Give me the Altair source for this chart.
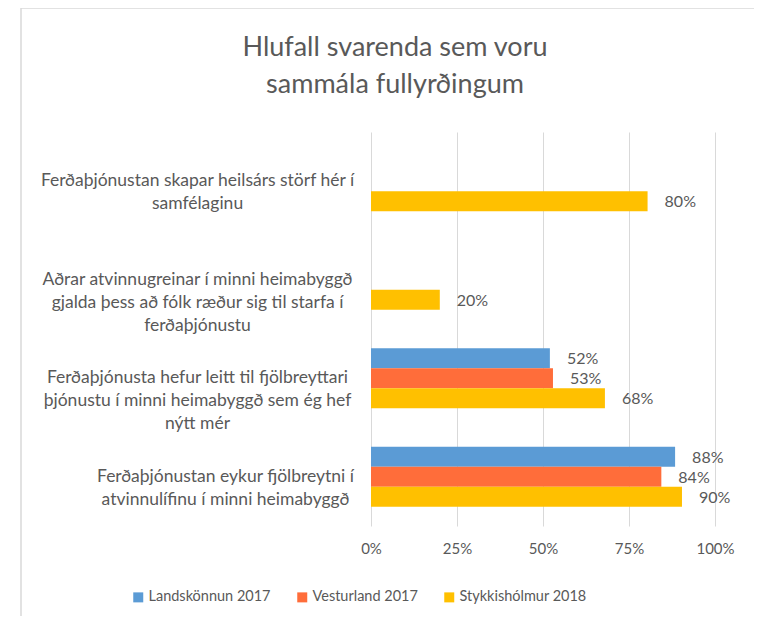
import altair as alt
import pandas as pd

categories = [
    "Ferðaþjónustan skapar heilsárs störf hér í samfélaginu",
    "Aðrar atvinnugreinar í minni heimabyggð gjalda þess að fólk ræður sig til starfa í ferðaþjónustu",
    "Ferðaþjónusta hefur leitt til fjölbreyttari þjónustu í minni heimabyggð sem ég hef nýtt mér",
    "Ferðaþjónustan eykur fjölbreytni í atvinnulífinu í minni heimabyggð",
]
category_lines = [
    ["Ferðaþjónustan skapar heilsárs störf hér í", "samfélaginu"],
    ["Aðrar atvinnugreinar í minni heimabyggð", "gjalda þess að fólk ræður sig til starfa í", "ferðaþjónustu"],
    ["Ferðaþjónusta hefur leitt til fjölbreyttari", "þjónustu í minni heimabyggð sem ég hef", "nýtt mér"],
    ["Ferðaþjónustan eykur fjölbreytni í", "atvinnulífinu í minni heimabyggð"],
]
series = ["Landskönnun 2017", "Vesturland 2017", "Stykkishólmur 2018"]
colors = ["#5B9BD5", "#FF6D3A", "#FFC000"]
landskonnun = [None, None, 0.52, 0.884]
vesturland = [None, None, 0.529, 0.844]
stykkisholmur = [0.804, 0.20, 0.68, 0.904]
x_ticks = [0, 0.25, 0.5, 0.75, 1.0]

rows = []
for s, vals in zip(series, [landskonnun, vesturland, stykkisholmur]):
    for c, v in zip(categories, vals):
        if v is not None:
            rows.append({"category": c, "series": s, "value": v})
df = pd.DataFrame(rows)

label_map = "{" + ", ".join(
    "'" + c + "': [" + ", ".join("'" + l + "'" for l in lines) + "]"
    for c, lines in zip(categories, category_lines)
) + "}"

FONT = "Lato"
GRAY = "#595959"

y_enc = alt.Y(
    "category:N",
    sort=categories,
    title=None,
    scale=alt.Scale(paddingInner=0.39, paddingOuter=0.195),
    axis=alt.Axis(
        labelExpr=label_map + "[datum.label]",
        labelAlign="center",
        labelBaseline="middle",
        labelLineHeight=23,
        labelFontSize=17.5,
        labelFont=FONT,
        labelColor=GRAY,
        labelLimit=400,
        labelPadding={"condition": {"test": "indexof(datum.label, 'eykur') >= 0", "value": 146}, "value": 174},
        ticks=False,
        domain=False,
        grid=False,
    ),
)
yoff = alt.YOffset("series:N", sort=series, scale=alt.Scale(domain=series, paddingInner=0, paddingOuter=0))
x_enc = alt.X(
    "value:Q",
    title=None,
    scale=alt.Scale(domain=[0, 1], nice=False),
    axis=alt.Axis(
        values=x_ticks,
        format=".0%",
        grid=True,
        gridColor="#D9D9D9",
        domain=False,
        ticks=False,
        labelFlush=False,
        labelFontSize=15,
        labelFont=FONT,
        labelColor=GRAY,
        labelPadding=15,
    ),
)

bars = alt.Chart(df).mark_bar().encode(
    y=y_enc,
    yOffset=yoff,
    x=x_enc,
    color=alt.Color(
        "series:N",
        sort=series,
        scale=alt.Scale(domain=series, range=colors),
        legend=alt.Legend(
            title=None,
            orient="none",
            direction="horizontal",
            legendX=-240,
            legendY=458,
            symbolType="square",
            symbolSize=100,
            symbolStrokeWidth=0,
            labelFontSize=14.5,
            labelFont=FONT,
            labelColor=GRAY,
            labelOffset=3,
            columnPadding=24,
        ),
    ),
)

labels = alt.Chart(df).mark_text(align="left", baseline="middle", dx=17, dy=1, fontSize=16, font=FONT, color=GRAY).encode(
    y=alt.Y("category:N", sort=categories),
    yOffset=yoff,
    x="value:Q",
    text=alt.Text("value:Q", format=".0%"),
)

border = alt.Chart(alt.Data(values=[{}])).mark_rect(fill="white", fillOpacity=0, stroke="#D9D9D9", strokeWidth=1.5).encode(
    x=alt.value(-350), x2=alt.value(500), y=alt.value(-124), y2=alt.value(700)
)

chart = alt.layer(border, bars, labels).properties(
    width=344,
    height=394,
    padding={"left": 363, "top": 124, "right": 39, "bottom": 90},
    autosize=alt.AutoSizeParams(type="none"),
    title=alt.Title(
        ["Hlufall svarenda sem voru", "sammála fullyrðingum"],
        font=FONT,
        fontSize=27,
        fontWeight="normal",
        color=GRAY,
        anchor="middle",
        frame="group",
        dx=-148,
        offset=-92,
        lineHeight=37,
    ),
).configure_view(stroke=None)

chart.save("out.html", embed_options={"renderer": "svg", "actions": False})
